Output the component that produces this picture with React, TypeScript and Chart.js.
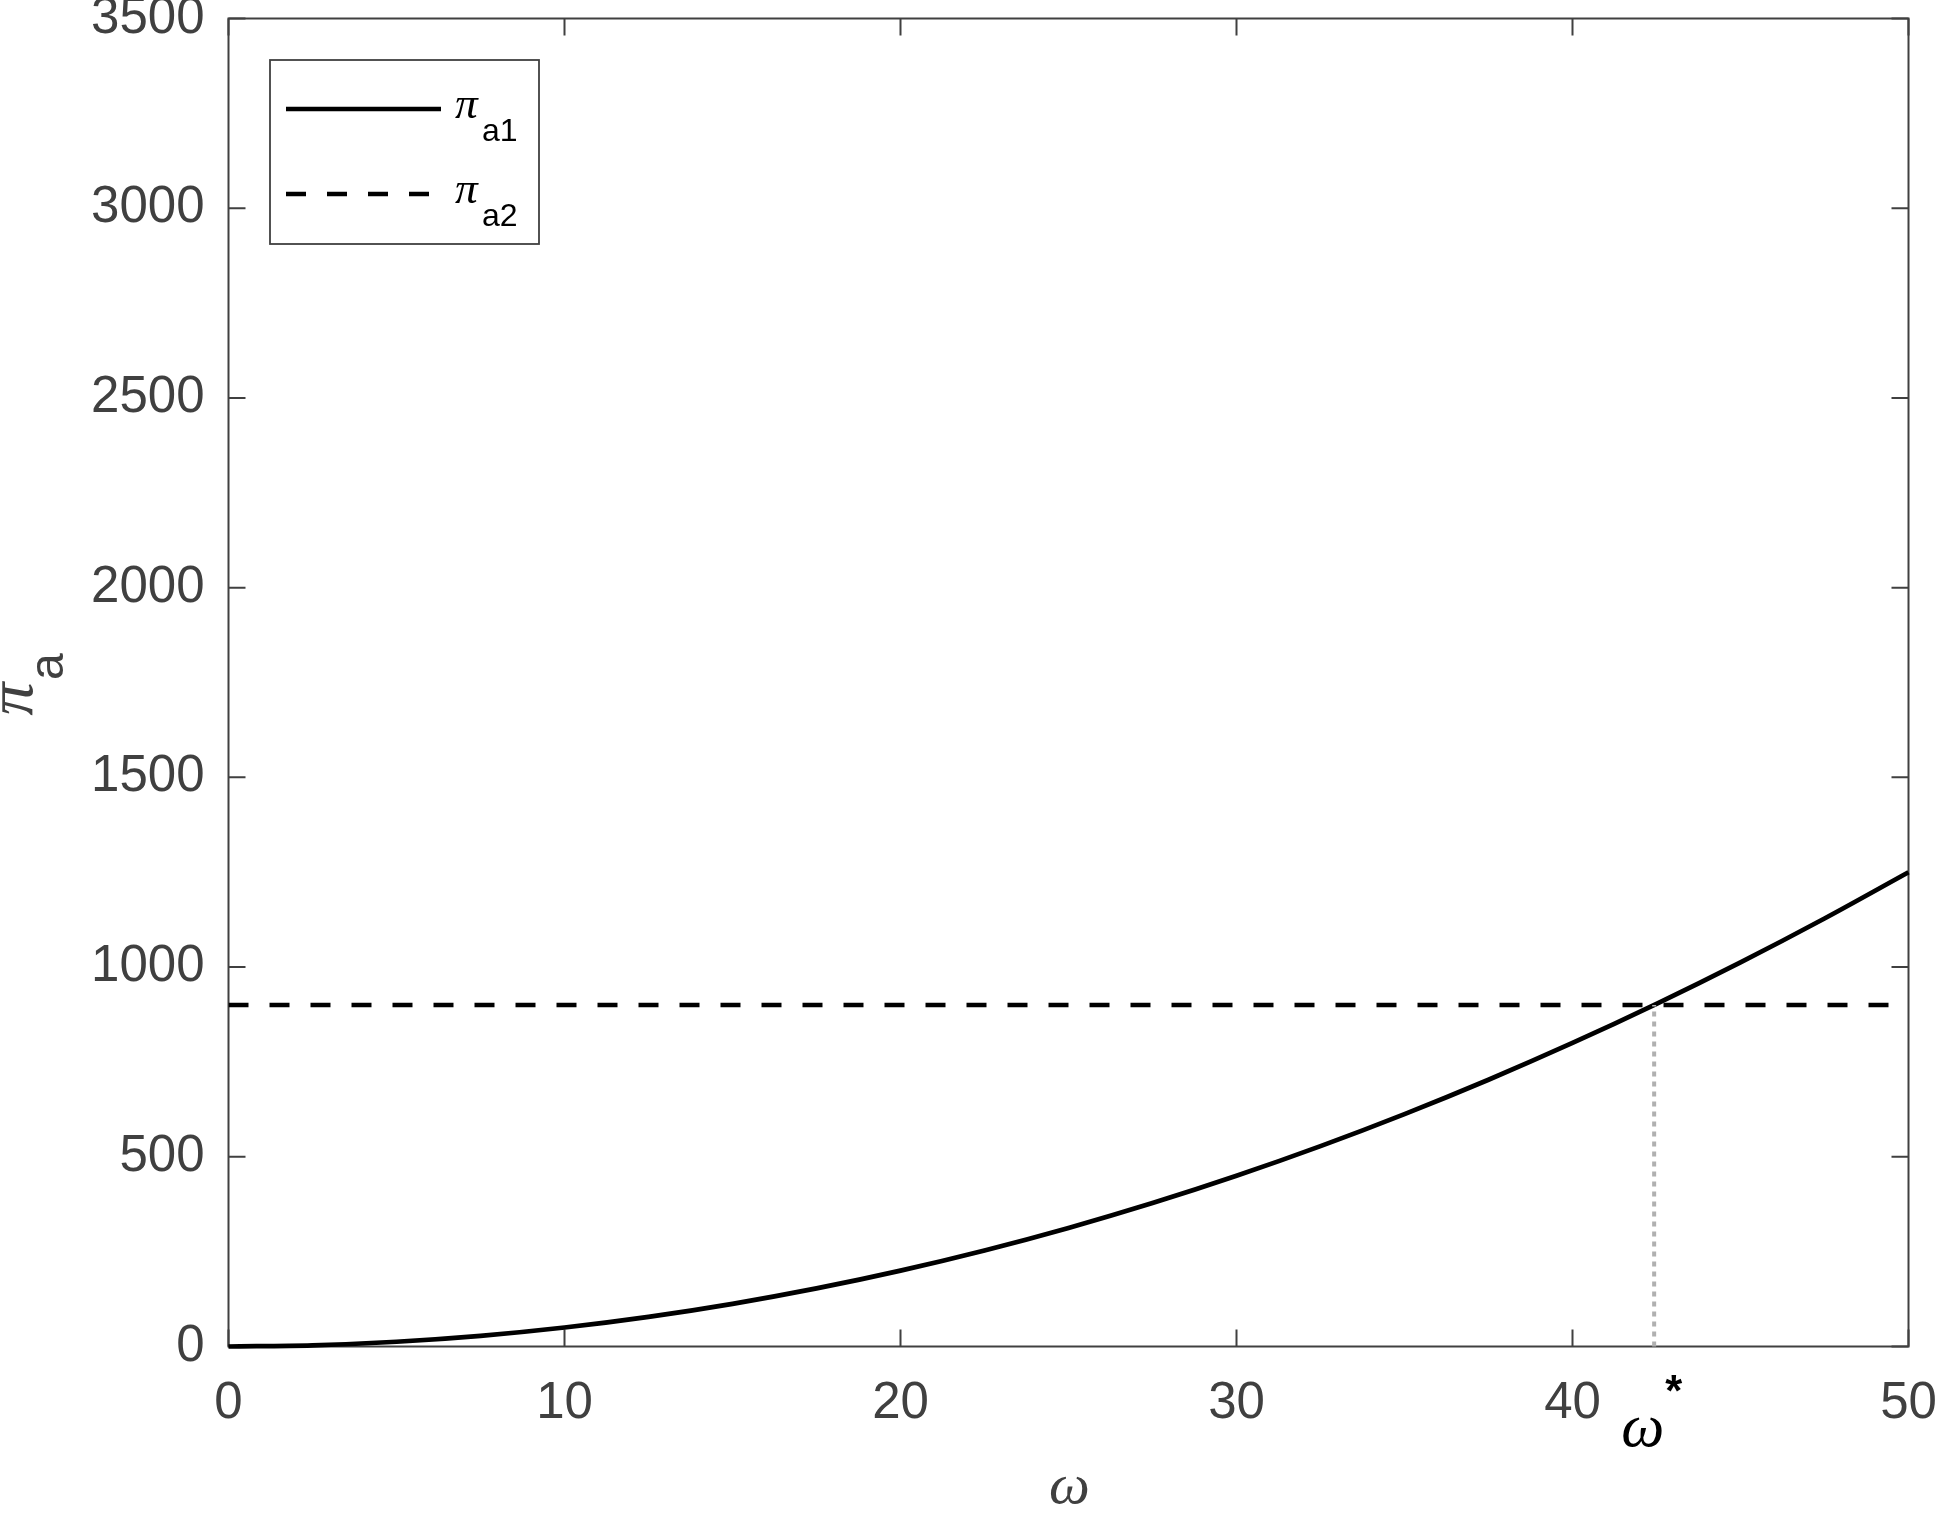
import React, { useEffect, useRef } from "react";
import { Chart, registerables } from "chart.js";

Chart.register(...registerables);

// ---- data ----
const omegaValues = [0, 2.5, 5, 7.5, 10, 12.5, 15, 17.5, 20, 22.5, 25, 27.5, 30, 32.5, 35, 37.5, 40, 42.5, 45, 47.5, 50];
const piA1Values = [0, 3.1, 12.5, 28.1, 50, 78.1, 112.5, 153.1, 200, 253.1, 312.5, 378.1, 450, 528.1, 612.5, 703.1, 800, 903.1, 1012.5, 1128.1, 1250];
const piA2Value = 900;
const piA2Range = [0, 50];
const omegaStar = 42.43;
const xTickValues = [0, 10, 20, 30, 40, 50];
const yTickValues = [0, 500, 1000, 1500, 2000, 2500, 3000, 3500];
const seriesLabels = ["π_a1", "π_a2"];

const AXIS = "#404040";
const TICK_LEN = 17;
const SANS = "'Liberation Sans', Arial, sans-serif";
const SERIF_IT = "'Liberation Serif', 'Times New Roman', serif";

// font size so that the ink of `text` has the requested width
function fitSize(ctx: CanvasRenderingContext2D, text: string, style: string, family: string, target: number) {
  ctx.font = `${style} 100px ${family}`;
  const m = ctx.measureText(text);
  const w = m.actualBoundingBoxRight + m.actualBoundingBoxLeft;
  return (100 * target) / w;
}

// draw text so that its ink starts at inkLeft and its ink bottom (or top) sits at y
function drawInk(
  ctx: CanvasRenderingContext2D,
  text: string,
  font: string,
  inkLeft: number,
  y: number,
  mode: "bottom" | "top"
) {
  ctx.font = font;
  ctx.textAlign = "left";
  ctx.textBaseline = "alphabetic";
  const m = ctx.measureText(text);
  const bx = inkLeft + m.actualBoundingBoxLeft;
  const by = mode === "bottom" ? y - m.actualBoundingBoxDescent : y + m.actualBoundingBoxAscent;
  ctx.fillText(text, bx, by);
}

const decorPlugin = {
  id: "decor",
  beforeDatasetsDraw(chart: any) {
    const { ctx, chartArea: a, scales } = chart;
    const x = scales.x;
    const y = scales.y;
    ctx.save();
    ctx.strokeStyle = AXIS;
    ctx.lineWidth = 2;
    ctx.strokeRect(a.left, a.top, a.right - a.left, a.bottom - a.top);
    ctx.beginPath();
    for (const v of xTickValues) {
      const px = x.getPixelForValue(v);
      ctx.moveTo(px, a.bottom);
      ctx.lineTo(px, a.bottom - TICK_LEN);
      ctx.moveTo(px, a.top);
      ctx.lineTo(px, a.top + TICK_LEN);
    }
    for (const v of yTickValues) {
      const py = y.getPixelForValue(v);
      ctx.moveTo(a.left, py);
      ctx.lineTo(a.left + TICK_LEN, py);
      ctx.moveTo(a.right, py);
      ctx.lineTo(a.right - TICK_LEN, py);
    }
    ctx.stroke();
    ctx.restore();
  },
  afterDatasetsDraw(chart: any) {
    const { ctx, chartArea: a, scales } = chart;
    const x = scales.x;
    ctx.save();

    // x axis title: omega
    ctx.fillStyle = AXIS;
    const cx = (a.left + a.right) / 2;
    const wSize = fitSize(ctx, "ω", "italic", SERIF_IT, 37);
    drawInk(ctx, "ω", `italic ${wSize}px ${SERIF_IT}`, cx - 18.5, 1504, "bottom");

    // omega* label under the dotted line
    const sx = x.getPixelForValue(omegaStar);
    ctx.fillStyle = "#000";
    const wsSize = fitSize(ctx, "ω", "italic", SERIF_IT, 39);
    drawInk(ctx, "ω", `italic ${wsSize}px ${SERIF_IT}`, sx - 31, 1447, "bottom");
    const stSize = fitSize(ctx, "*", "bold", SANS, 17);
    drawInk(ctx, "*", `bold ${stSize}px ${SANS}`, sx + 11, 1375, "top");

    // y axis title: pi_a (rotated)
    ctx.save();
    const cy = (a.top + a.bottom) / 2;
    ctx.translate(0, cy);
    ctx.rotate(-Math.PI / 2);
    ctx.fillStyle = AXIS;
    const pSize = fitSize(ctx, "π", "italic", SERIF_IT, 35);
    drawInk(ctx, "π", `italic ${pSize}px ${SERIF_IT}`, -33, 33, "bottom");
    drawInk(ctx, "a", `48px ${SANS}`, 4.5, 63, "bottom");
    ctx.restore();

    // legend
    const lx = 270, ly = 60, lw = 269, lh = 184;
    ctx.fillStyle = "#fff";
    ctx.fillRect(lx, ly, lw, lh);
    ctx.strokeStyle = AXIS;
    ctx.lineWidth = 1.8;
    ctx.strokeRect(lx, ly, lw, lh);
    const rows = [
      { y: 109, dash: [] as number[], sub: "a1" },
      { y: 194, dash: [20, 21], sub: "a2" },
    ];
    const lpSize = fitSize(ctx, "π", "italic", SERIF_IT, 24);
    for (const r of rows) {
      ctx.strokeStyle = "#000";
      ctx.lineWidth = 4.5;
      ctx.setLineDash(r.dash);
      ctx.beginPath();
      ctx.moveTo(286, r.y);
      ctx.lineTo(441, r.y);
      ctx.stroke();
      ctx.setLineDash([]);
      ctx.fillStyle = "#000";
      drawInk(ctx, "π", `italic ${lpSize}px ${SERIF_IT}`, 455, r.y + 8.5, "bottom");
      drawInk(ctx, r.sub, `32px ${SANS}`, 483, r.y + 32, "bottom");
    }
    ctx.restore();
  },
};

export default function App() {
  const canvasRef = useRef<HTMLCanvasElement | null>(null);

  useEffect(() => {
    const canvas = canvasRef.current;
    if (!canvas) return;
    const curve = omegaValues.map((w, i) => ({ x: w, y: piA1Values[i] }));
    const flat = piA2Range.map((w) => ({ x: w, y: piA2Value }));
    const drop = [
      { x: omegaStar, y: 0 },
      { x: omegaStar, y: piA2Value },
    ];
    const chart = new Chart(canvas, {
      type: "line",
      data: {
        datasets: [
          {
            label: "drop",
            data: drop,
            borderColor: "#b0b0b0",
            borderWidth: 4,
            borderDash: [5, 5],
            pointRadius: 0,
            fill: false,
            clip: false as any,
          },
          {
            label: seriesLabels[0],
            data: curve,
            borderColor: "#000",
            borderWidth: 4.7,
            pointRadius: 0,
            cubicInterpolationMode: "monotone",
            fill: false,
            clip: false as any,
          },
          {
            label: seriesLabels[1],
            data: flat,
            borderColor: "#000",
            borderWidth: 4.5,
            borderDash: [20, 21],
            pointRadius: 0,
            fill: false,
          },
        ],
      },
      options: {
        animation: false,
        responsive: false,
        events: [],
        layout: { padding: { top: 18.5, right: 28.5, left: 0, bottom: 0 } },
        plugins: {
          legend: { display: false },
          tooltip: { enabled: false },
          title: { display: false },
        },
        scales: {
          x: {
            type: "linear",
            min: 0,
            max: 50,
            afterBuildTicks: (s: any) => {
              s.ticks = xTickValues.map((v) => ({ value: v }));
            },
            afterFit: (s: any) => {
              s.height = 166.5;
              s.paddingLeft = 0;
              s.paddingRight = 0;
            },
            grid: { display: false, drawTicks: false },
            border: { display: false },
            ticks: {
              color: AXIS,
              font: { family: SANS, size: 51 },
              padding: 27,
              maxRotation: 0,
              autoSkip: false,
              callback: (v: any) => String(v),
            },
          },
          y: {
            type: "linear",
            min: 0,
            max: 3500,
            afterBuildTicks: (s: any) => {
              s.ticks = yTickValues.map((v) => ({ value: v }));
            },
            afterFit: (s: any) => {
              s.width = 228.5;
              s.paddingTop = 0;
              s.paddingBottom = 0;
            },
            grid: { display: false, drawTicks: false },
            border: { display: false },
            ticks: {
              color: AXIS,
              font: { family: SANS, size: 51 },
              padding: 24,
              autoSkip: false,
              callback: (v: any) => String(v),
            },
          },
        },
      },
      plugins: [decorPlugin],
    });
    return () => chart.destroy();
  }, []);

  return (
    <div style={{ position: "absolute", left: 0, top: 0, width: 1937, height: 1513, background: "#fff" }}>
      <canvas ref={canvasRef} width={1937} height={1513} style={{ display: "block" }} />
    </div>
  );
}
